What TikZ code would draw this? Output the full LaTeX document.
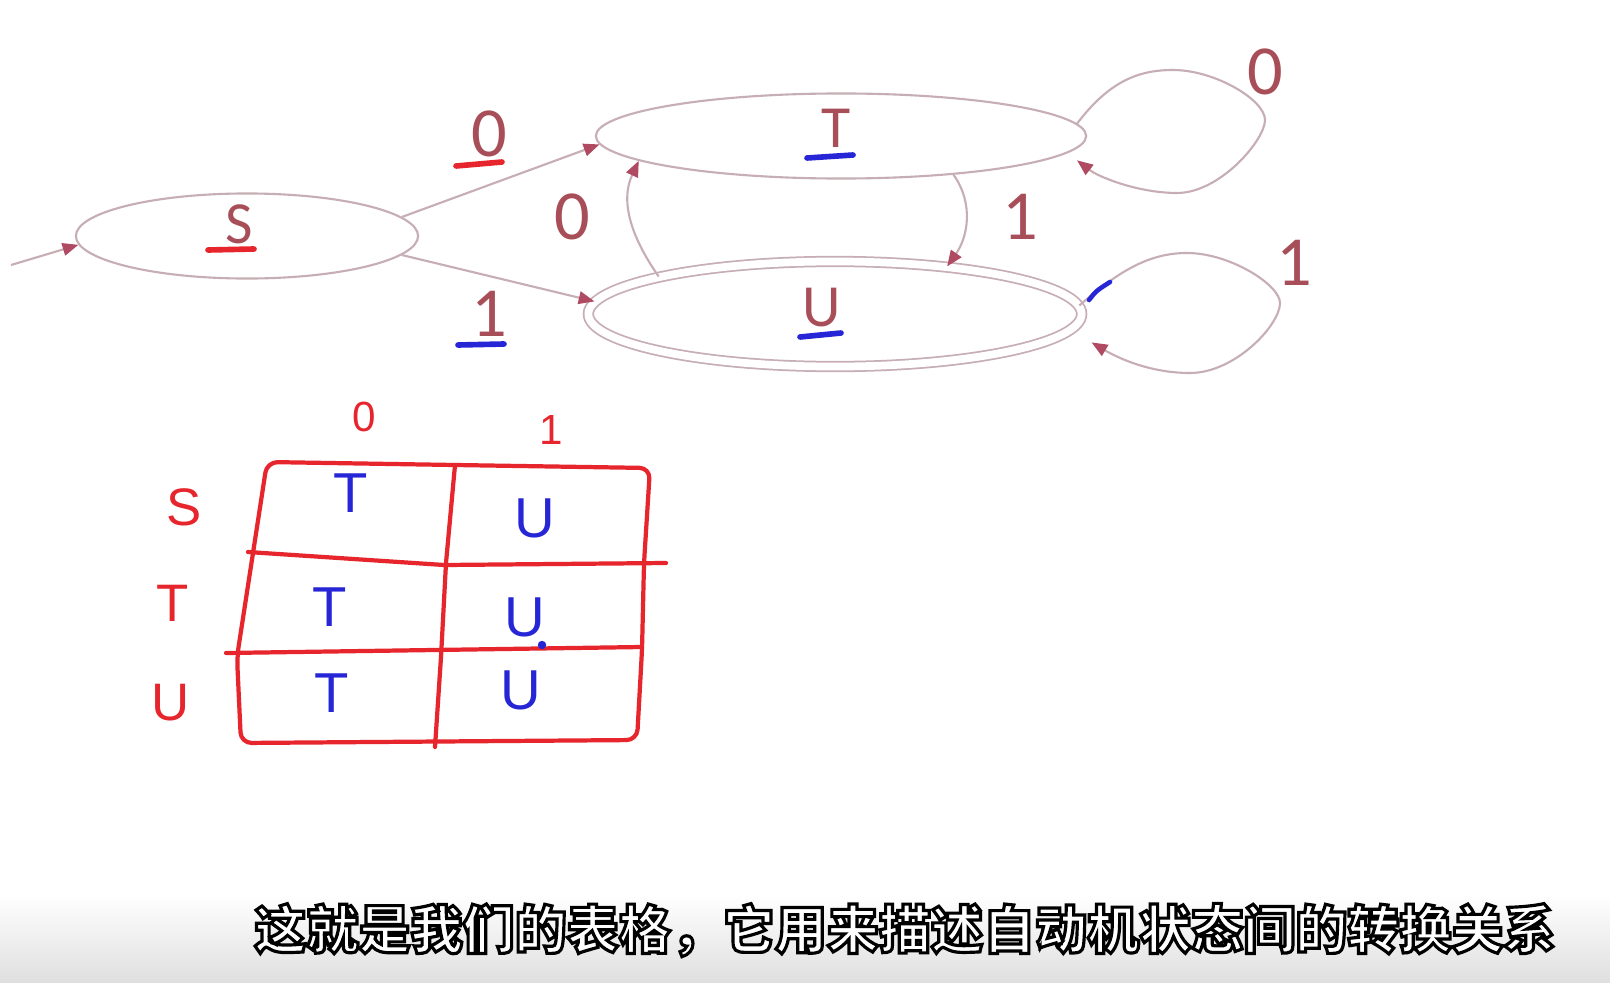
\documentclass[tikz,border=0pt]{standalone}
\usepackage{fontspec}
\setmainfont{Carlito}
\newfontfamily\handfont{Liberation Sans}
\newfontfamily\cjkfont{Noto Sans CJK SC}
\usepackage{xcolor}
\usetikzlibrary{shapes.geometric, arrows.meta}
\definecolor{ringgray}{HTML}{C6AEB4}
\definecolor{tipred}{HTML}{B04A62}
\definecolor{lblred}{HTML}{A84E58}
\definecolor{penred}{HTML}{E6262C}
\definecolor{penblue}{HTML}{2626D6}
\tikzstyle{trans} = [->, >={Triangle[length=4.5pt,width=3.6pt,color=tipred]}, draw=ringgray, line width=0.6pt]
% white letters with a black rim (fill + stroke)
\newcommand{\rimtext}[1]{\special{pdf:literal direct 0 0 0 RG 2 Tr 0.9 w}#1}

\begin{document}
\begin{tikzpicture}[x=0.01cm, y=-0.01cm,
    state/.style={ellipse, draw=ringgray, line width=0.6pt, inner sep=0pt, minimum height=0.85cm},
    accept/.style={state, double, double distance=2.2pt, line width=0.5pt},
    statetext/.style={font=\fontsize{17}{17}\selectfont, text=lblred},
    edgetext/.style={font=\fontsize{20}{20}\selectfont, text=lblred},
    pen/.style={line width=1.6pt, line cap=round},
    gridline/.style={draw=penred, line width=1.2pt, line join=round, line cap=round},
    handred/.style={font=\handfont\fontsize{15}{15}\selectfont, text=penred},
    handblue/.style={font=\handfont\fontsize{16}{16}\selectfont, text=penblue}
]
    \useasboundingbox (0,0) rectangle (1610,982);
    \fill[white] (0,0) rectangle (1610,982);
    \shade[top color=white, bottom color=gray!25] (0,895) rectangle (1610,982);

    % Automaton - states
    \node[state, minimum width=3.42cm] (S) at (247,236) {};
    \node[state, minimum width=4.9cm] (T) at (841,136) {};
    \node[accept, minimum width=4.93cm, minimum height=1.05cm] (U) at (835,314) {};

    \node[statetext] (Slbl) at (239,224) {S};
    \node[statetext] (Tlbl) at (836,128) {T};
    \node[statetext] (Ulbl) at (822,308) {U};

    % Automaton - transitions
    \coordinate (entry) at (11,265);
    \draw[trans] (entry) -- (S.183);
    \draw[trans] (S.7) -- (T.182);
    \draw[trans] (S.-7) -- (U.177);
    \draw[trans] (U.168) to[out=125, in=245] (T.187);
    \draw[trans] (T.-19) to[out=-55, in=55] (U.23);
    \draw[trans] (T.3) .. controls (1110,80) and (1140,70) .. (1173,70)
        .. controls (1215,70) and (1265,100) .. (1265,120)
        .. controls (1265,140) and (1220,193) .. (1177,193)
        .. controls (1140,193) and (1100,178) .. ([yshift=-3.4pt]T.-3);
    \draw[trans] (U.2) .. controls (1120,270) and (1150,253) .. (1187,253)
        .. controls (1230,253) and (1280,285) .. (1280,303)
        .. controls (1280,325) and (1235,373) .. (1190,373)
        .. controls (1150,373) and (1118,358) .. ([xshift=6pt,yshift=-3.4pt]U.-4);

    \node[edgetext] (e1) at (489,134) {0};
    \node[edgetext] (e2) at (489,314) {1};
    \node[edgetext] (e3) at (572,217) {0};
    \node[edgetext] (e4) at (1020,217) {1};
    \node[edgetext] (e5) at (1265,72) {0};
    \node[edgetext] (e6) at (1294,263) {1};

    % Pen marks on the slide
    \draw[pen, penred] (208,250) -- (254,249);
    \draw[pen, penblue] (807,158) -- (853,155);
    \draw[pen, penblue] (800,337) -- (841,333);
    \draw[pen, penred] (456,166) -- (502,162);
    \draw[pen, penblue] (458,345) -- (504,344);
    \draw[penblue, line width=1.3pt, line cap=round] (1089,300) .. controls (1096,291) .. (1110,282);

    % Transition table - handwritten
    \draw[gridline, rounded corners=3pt] (241,743) -- (237,657) -- (253,553) -- (267,462) -- (455,465) -- (650,468) -- (644,563) -- (642,650) -- (637,740) -- cycle;
    \draw[gridline] (455,465) -- (446,563) -- (441,657) -- (435,747);
    \draw[gridline] (248,552) -- (444,565) -- (666,563);
    \draw[gridline] (226,653) -- (642,647);

    \node[handred, font=\handfont\fontsize{12}{12}\selectfont] (h0) at (364,417) {0};
    \node[handred, font=\handfont\fontsize{12}{12}\selectfont] (h1) at (551,430) {1};
    \node[handred] (rS) at (184,507) {S};
    \node[handred] (rT) at (173,603) {T};
    \node[handred] (rU) at (171,703) {U};

    \node[handblue] (c11) at (351,493) {T};
    \node[handblue] (c12) at (535,518) {U};
    \node[handblue] (c21) at (330,607) {T};
    \node[handblue] (c22) at (525,617) {U};
    \node[handblue] (c31) at (332,693) {T};
    \node[handblue] (c32) at (521,690) {U};
    \fill[penblue] (542,645) circle (1.2pt);

    % Subtitle
    \node[font=\cjkfont\bfseries\fontsize{14.8}{15}\selectfont, text=white] (caption) at (905,930) {\rimtext{这就是我们的表格，它用来描述自动机状态间的转换关系}};
\end{tikzpicture}
\end{document}
